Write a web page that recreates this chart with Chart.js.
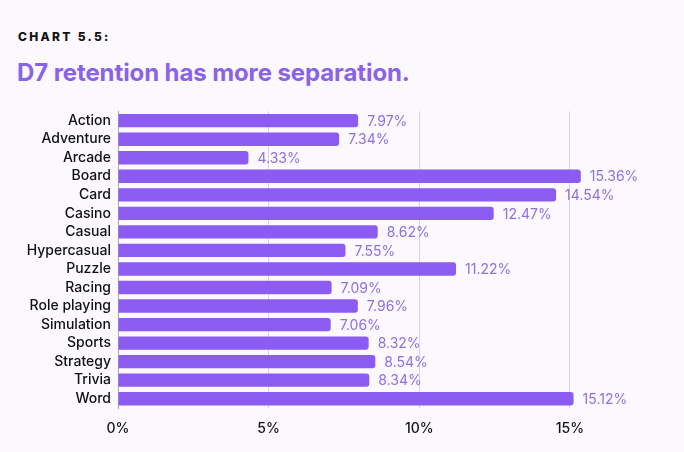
<!DOCTYPE html>
<html>
<head>
<meta charset="utf-8">
<script src="https://cdn.jsdelivr.net/npm/chart.js@4"></script>
<style>
  html, body { margin: 0; padding: 0; background: #fbf8fe; }
  body { width: 684px; height: 452px; position: relative; overflow: hidden; font-family: Inter, sans-serif; }
  .kicker { position: absolute; left: 18px; top: 29px; font-size: 12px; font-weight: 800; letter-spacing: 2.3px; color: #111; }
  .title { position: absolute; left: 17px; top: 58px; font-size: 24px; font-weight: 700; color: #8a63e6; letter-spacing: -0.1px; }
  .wrap { position: absolute; left: 0; top: 96px; width: 684px; height: 356px; }
</style>
</head>
<body>
<div class="kicker">CHART 5.5:</div>
<div class="title">D7 retention has more separation.</div>
<div class="wrap"><canvas id="c" width="684" height="356"></canvas></div>
<script>
// Genres and D7 retention (%)
const genres = ['Action', 'Adventure', 'Arcade', 'Board', 'Card', 'Casino', 'Casual', 'Hypercasual',
  'Puzzle', 'Racing', 'Role playing', 'Simulation', 'Sports', 'Strategy', 'Trivia', 'Word'];
const retention = [7.97, 7.34, 4.33, 15.36, 14.54, 12.47, 8.62, 7.55, 11.22, 7.09, 7.96, 7.06, 8.32, 8.54, 8.34, 15.12];
const tickValues = [0, 5, 10, 15];

// value labels next to each bar
const valueLabels = {
  id: 'valueLabels',
  afterDatasetsDraw(chart) {
    const ctx = chart.ctx;
    const meta = chart.getDatasetMeta(0);
    ctx.save();
    ctx.font = '14px Inter, sans-serif';
    ctx.fillStyle = '#8f70dc';
    ctx.textBaseline = 'middle';
    meta.data.forEach((bar, i) => {
      ctx.fillText(retention[i].toFixed(2) + '%', bar.x + 9, bar.y + 1);
    });
    ctx.restore();
  }
};

const ctx = document.getElementById('c').getContext('2d');
new Chart(ctx, {
  type: 'bar',
  data: {
    labels: genres,
    datasets: [{
      data: retention,
      backgroundColor: '#8c5cf2',
      borderRadius: 3,
      borderSkipped: 'start',
      barPercentage: 0.72,
      categoryPercentage: 1
    }]
  },
  options: {
    indexAxis: 'y',
    responsive: false,
    animation: false,
    layout: { padding: { top: 5, right: 102, bottom: 0, left: 0 } },
    plugins: { legend: { display: false }, tooltip: { enabled: false } },
    scales: {
      x: {
        min: 0,
        max: 15.4,
        afterBuildTicks: axis => { axis.ticks = tickValues.map(v => ({ value: v })); },
        afterFit: s => { s.height = 44; },
        ticks: {
          callback: v => v + '%',
          color: '#111',
          font: { family: 'Inter', size: 14, weight: 500 },
          padding: 12
        },
        grid: { color: '#d8d4de', drawTicks: false },
        border: { display: false }
      },
      y: {
        afterFit: s => { s.width = 118; },
        ticks: {
          autoSkip: false,
          color: '#111',
          font: { family: 'Inter', size: 14, weight: 500 },
          padding: 7
        },
        grid: { display: false, drawTicks: false },
        border: { color: '#a9a5b0' }
      }
    }
  },
  plugins: [valueLabels]
});
</script>
</body>
</html>
